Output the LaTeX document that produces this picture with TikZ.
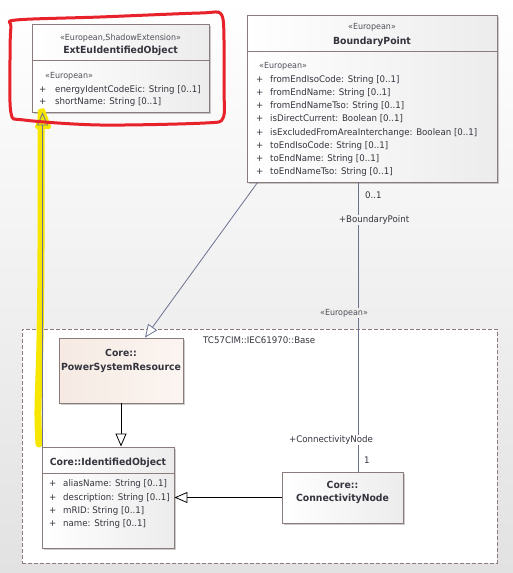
\documentclass[tikz,border=0pt]{standalone}
\usepackage{fontspec}
\setmainfont{DejaVu Sans}[FakeStretch=0.95]
\usetikzlibrary{arrows.meta,shadows}
\definecolor{boxline}{HTML}{8C7B7B}
\definecolor{txt}{HTML}{34343E}
\definecolor{stereocol}{HTML}{50505A}
\definecolor{conn}{HTML}{6B7191}
\definecolor{peach}{HTML}{F6EAE3}
\definecolor{peachb}{HTML}{FBF5F1}
\definecolor{boxgray}{HTML}{ECECEC}
\definecolor{bgbottom}{HTML}{E2E2E2}
\definecolor{hlyellow}{HTML}{F7E600}
\definecolor{hlred}{HTML}{E8222A}
\definecolor{labA}{HTML}{F4F4F4}
\definecolor{labB}{HTML}{EEEEEE}
\tikzset{
  classbox/.style={draw=boxline, line width=0.9pt, left color=white, right color=boxgray, inner sep=0pt,
    drop shadow={shadow xshift=2pt, shadow yshift=-2pt, opacity=0.2, fill=black}},
  psrbox/.style={classbox, left color=peach, right color=peachb},
  sepline/.style={draw=boxline, line width=0.9pt},
  attr/.style={anchor=mid west, inner sep=0pt, font=\fontsize{9.1}{10}\selectfont, text=txt},
  ctitle/.style={anchor=mid, inner sep=0pt, font=\fontsize{9.8}{10}\selectfont\bfseries, text=txt},
  stereotxt/.style={inner sep=0pt, font=\fontsize{8.4}{9}\selectfont, text=stereocol},
  gen/.style={draw=conn, line width=0.8pt, -{Triangle[open,length=13pt,width=11pt,fill=white]}},
  genhl/.style={draw=conn, line width=0.8pt, -{Triangle[open,length=13pt,width=11pt]}},
  genblack/.style={draw=black, line width=0.8pt, -{Triangle[open,length=13pt,width=11pt,fill=white]}},
  assoc/.style={draw=conn, line width=0.8pt},
  alabel/.style={inner sep=1pt, font=\fontsize{9.1}{10}\selectfont, text=txt},
}
\begin{document}
\begin{tikzpicture}[x=1pt,y=-1pt]
\useasboundingbox (0,0) rectangle (513,573);
\fill[top color=white, bottom color=bgbottom] (0,0) rectangle (513,573);
% package
\node[draw=boxline, line width=0.8pt, dash pattern=on 4pt off 2pt, fill=white, minimum width=475pt, minimum height=234pt, inner sep=0pt] (pkg) at (259.5,446) {};
\node[alabel, anchor=mid west, inner sep=0pt] (pkglabel) at (203,341) {TC57CIM::IEC61970::Base};
% ExtEuIdentifiedObject
\node[classbox, minimum width=177pt, minimum height=88pt] (ext) at (120.5,68) {};
\draw[sepline] ([yshift=-37pt]ext.north west) -- ([yshift=-37pt]ext.north east);
\node[stereotxt] (extst) at (120.5,38) {«European,ShadowExtension»};
\node[ctitle] (extname) at (120.5,51) {ExtEuIdentifiedObject};
\node[stereotxt, anchor=mid west] (extst2) at (45,76) {«European»};
\node[attr] (extp1) at (39,90) {+};
\node[attr] (exta1) at (55,90) {energyIdentCodeEic: String [0..1]};
\node[attr] (extp2) at (39,102) {+};
\node[attr] (exta2) at (55,102) {shortName: String [0..1]};
% BoundaryPoint
\node[classbox, minimum width=250pt, minimum height=167pt] (bp) at (372,98.5) {};
\draw[sepline] ([yshift=-37pt]bp.north west) -- ([yshift=-37pt]bp.north east);
\node[stereotxt] (bpst) at (372,27) {«European»};
\node[ctitle] (bpname) at (372,42) {BoundaryPoint};
\node[stereotxt, anchor=mid west] (bpst2) at (259,66) {«European»};
\foreach \i/\yy/\t in {1/80/fromEndIsoCode: String [0..1],
                      2/93/fromEndName: String [0..1],
                      3/106/fromEndNameTso: String [0..1],
                      4/119/isDirectCurrent: Boolean [0..1],
                      5/133/isExcludedFromAreaInterchange: Boolean [0..1],
                      6/146/toEndIsoCode: String [0..1],
                      7/159/toEndName: String [0..1],
                      8/172/toEndNameTso: String [0..1]}{
  \node[attr] (bpp\i) at (256,\yy) {+};
  \node[attr] (bpa\i) at (270,\yy) {\t};
}
% PowerSystemResource
\node[psrbox, minimum width=124pt, minimum height=65pt] (psr) at (121,370.5) {};
\node[ctitle] (psrn1) at (121,354) {Core::};
\node[ctitle] (psrn2) at (121,368) {PowerSystemResource};
% IdentifiedObject
\node[classbox, minimum width=132pt, minimum height=101pt] (io) at (108,497.5) {};
\draw[sepline] ([yshift=-27pt]io.north west) -- ([yshift=-27pt]io.north east);
\node[ctitle] (ioname) at (108,463) {Core::IdentifiedObject};
\foreach \i/\yy/\t in {1/484/aliasName: String [0..1],
                      2/498/description: String [0..1],
                      3/511/mRID: String [0..1],
                      4/524/name: String [0..1]}{
  \node[attr] (iop\i) at (49,\yy) {+};
  \node[attr] (ioa\i) at (63,\yy) {\t};
}
% ConnectivityNode
\node[classbox, minimum width=121pt, minimum height=51pt] (cn) at (342.5,497.5) {};
\node[ctitle] (cnn1) at (342.5,486) {Core::};
\node[ctitle] (cnn2) at (342.5,499) {ConnectivityNode};
% yellow highlight
\draw[hlyellow, line width=7pt, line cap=round, line join=round]
  plot[smooth, tension=0.6] coordinates {(41,112) (41,250) (40,340) (38,410) (39,444)};
\draw[hlyellow, line width=4pt, line join=round, fill=hlyellow] (37,127) -- (43,110) -- (49,127) -- cycle;
% connectors
\draw[genhl] ([xshift=1pt]io.north west) -- ([xshift=1pt]io.north west |- ext.south);
\draw[gen] ([xshift=11pt]bp.south west) -- ([xshift=24pt]psr.north);
\draw[genblack] (psr.south) -- (psr.south |- io.north);
\draw[genblack] (cn.west) -- (cn.west -| io.east);
\draw[assoc] ([xshift=15.5pt]cn.north) -- ([xshift=15.5pt]cn.north |- bp.south);
\node[alabel, anchor=mid west] (m1) at (364,196) {0..1};
\node[alabel, fill=labA] (r1) at (374,220) {+BoundaryPoint};
\node[stereotxt, fill=labB, inner sep=1pt] (ast) at (344,313) {«European»};
\node[alabel, fill=white] (r2) at (331,440) {+ConnectivityNode};
\node[alabel, anchor=mid west] (m2) at (363,461) {1};
% red outline
\draw[hlred, line width=3pt, line cap=round, line join=round]
  plot[smooth cycle, tension=0.5] coordinates {(16,20) (100,17) (200,13) (221,14) (224,40) (224,90) (223,118) (205,123) (100,125) (24,120) (11,113) (10,60) (11,27)};
\end{tikzpicture}
\end{document}
